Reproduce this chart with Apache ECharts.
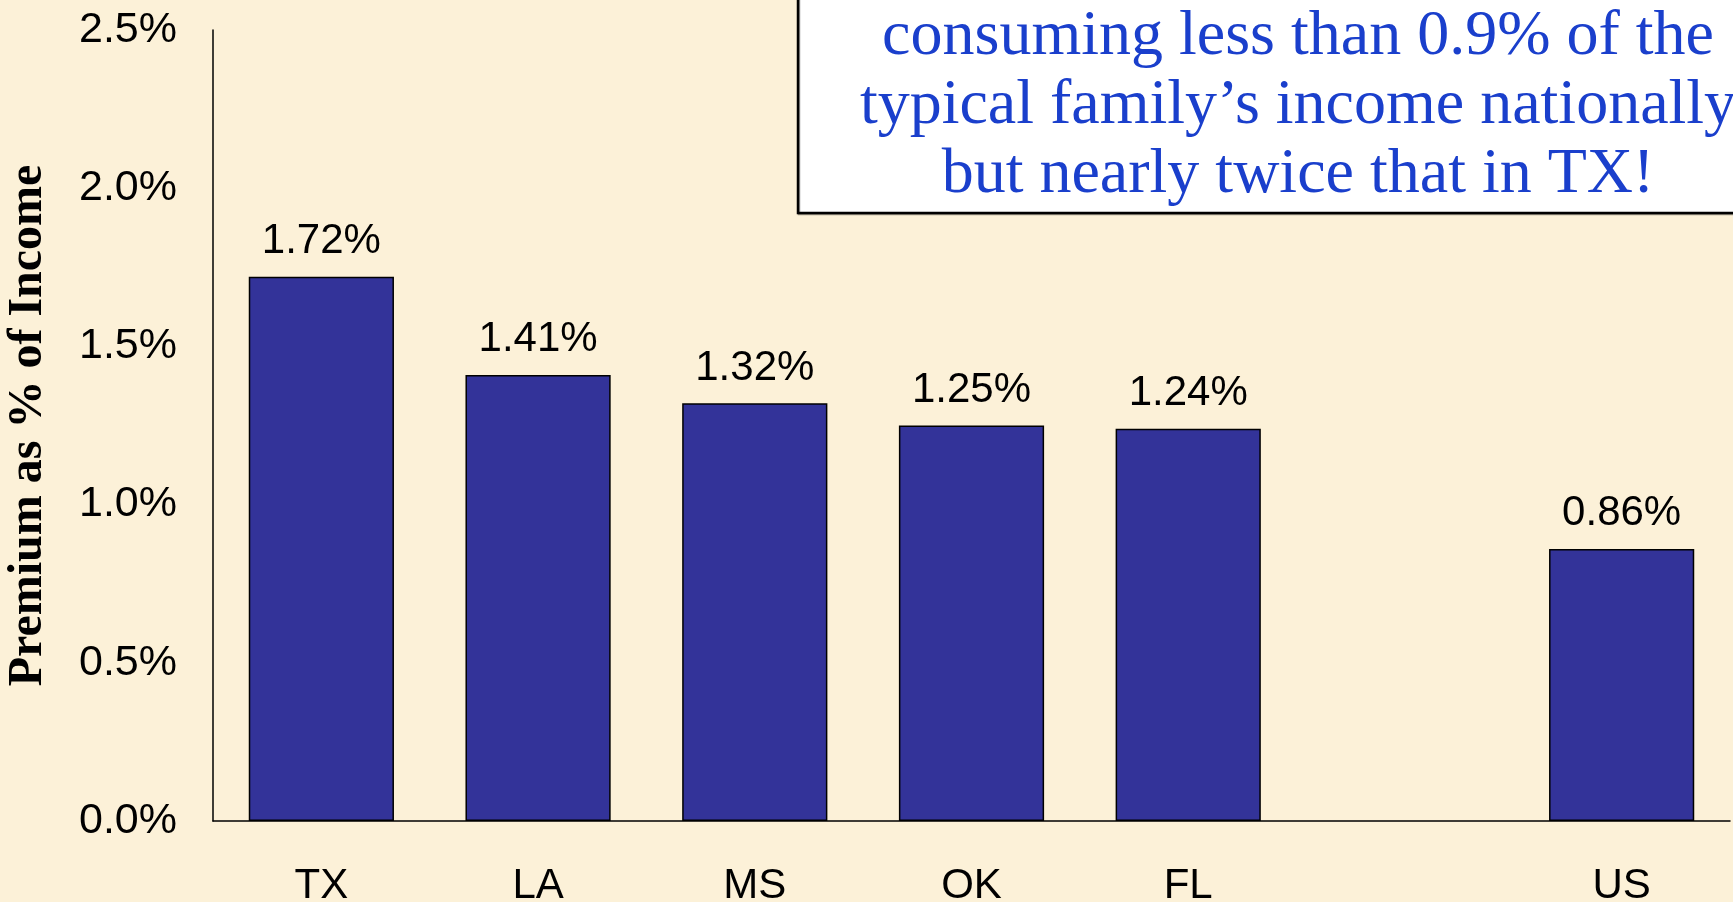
<!DOCTYPE html>
<html>
<head>
<meta charset="utf-8">
<script src="https://cdn.jsdelivr.net/npm/echarts@6/dist/echarts.min.js"></script>
<style>
	html, body { margin: 0; padding: 0; background: #fcf1d8; }
	#chart { width: 1733px; height: 902px; }
</style>
</head>
<body>
<div id="chart"></div>
<script>
	// 州别保费占收入比例
	var states = ['TX', 'LA', 'MS', 'OK', 'FL', '', 'US'];
	var premiumPct = [1.72, 1.41, 1.32, 1.25, 1.24, null, 0.86];
	var yTicks = [0, 0.5, 1.0, 1.5, 2.0, 2.5];
	var noteLines = [
		'consuming less than 0.9% of the',
		'typical family\u2019s income nationally',
		'but nearly twice that in TX!'
	];

	var myChart = echarts.init(document.getElementById('chart'));
	var option = {
		backgroundColor: '#fcf1d8',
		animation: false,
		grid: {
			left: 213,
			right: 3,
			top: 30,
			bottom: 81,
			containLabel: false,
			outerBoundsMode: 'none'
		},
		xAxis: {
			type: 'category',
			data: states,
			axisLine: { lineStyle: { color: '#000', width: 1.5 } },
			axisTick: { show: false },
			axisLabel: {
				color: '#000',
				fontFamily: 'Liberation Sans, Arial',
				fontSize: 42,
				margin: 44
			}
		},
		yAxis: {
			type: 'value',
			min: yTicks[0],
			max: yTicks[yTicks.length - 1],
			interval: 0.5,
			name: 'Premium as % of Income',
			nameLocation: 'middle',
			nameGap: 160,
			nameTextStyle: {
				color: '#000',
				fontFamily: 'Liberation Serif, Times New Roman',
				fontWeight: 'bold',
				fontSize: 48
			},
			axisLine: { show: true, lineStyle: { color: '#000', width: 1.5 } },
			axisTick: { show: false },
			splitLine: { show: false },
			axisLabel: {
				color: '#000',
				fontFamily: 'Liberation Sans, Arial',
				fontSize: 43,
				margin: 36,
				formatter: function(v) {
					return v.toFixed(1) + '%';
				}
			}
		},
		series: [{
			type: 'bar',
			data: premiumPct,
			barCategoryGap: '33%',
			itemStyle: {
				color: '#333399',
				borderColor: '#000',
				borderWidth: 1.5
			},
			label: {
				show: true,
				position: 'top',
				distance: 14,
				color: '#000',
				fontFamily: 'Liberation Sans, Arial',
				fontSize: 42,
				formatter: function(p) {
					return p.value.toFixed(2) + '%';
				}
			}
		}],
		graphic: [{
			type: 'rect',
			shape: { x: 798, y: -10, width: 1000, height: 223 },
			style: {
				fill: '#fff',
				stroke: '#000',
				lineWidth: 2.5,
				shadowColor: 'rgba(0,0,0,0.4)',
				shadowOffsetX: 1,
				shadowOffsetY: 1
			},
			z: 10
		}, {
			type: 'text',
			x: 1298,
			y: 3,
			style: {
				text: noteLines.join('\n'),
				fill: '#1a3fcc',
				font: '64px "Liberation Serif", "Times New Roman", serif',
				lineHeight: 69,
				align: 'center',
				verticalAlign: 'top'
			},
			z: 11
		}]
	};
	myChart.setOption(option);
</script>
</body>
</html>
